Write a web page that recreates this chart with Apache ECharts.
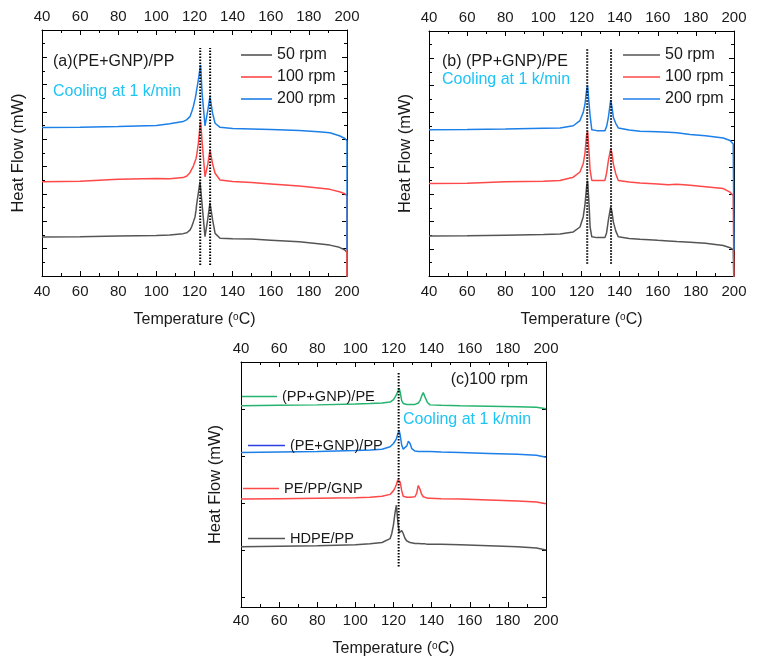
<!DOCTYPE html>
<html><head><meta charset="utf-8">
<script src="https://cdn.jsdelivr.net/npm/echarts@6/dist/echarts.min.js"></script>
<style>html,body{margin:0;padding:0;background:#fff}#c{width:758px;height:664px}</style>
</head><body><div id="c"></div>
<script>
// ---------- DATA ----------
const tempTicks = [40, 60, 80, 100, 120, 140, 160, 180, 200];

// Panel (a) (PE+GNP)/PP
const aT      = [40, 60, 80, 100, 107, 114, 116, 117.6, 118.5, 119.4, 120.3, 120.8, 121.1, 122, 122.9, 123.2, 124, 125.5, 127, 128.1, 129.5, 130.8, 133.4, 140, 150, 160, 175, 185, 191, 196, 198.9, 200, 200];
const aHF50   = [1.43, 1.44, 1.46, 1.48, 1.5, 1.55, 1.58, 1.68, 1.8, 1.98, 2.17, 2.41, 2.6, 3.03, 3.45, 3.4, 2.6, 1.44, 2.1, 2.68, 2.05, 1.56, 1.38, 1.36, 1.35, 1.31, 1.25, 1.18, 1.13, 1.05, 0.95, 0.86, -0.5];
const aHF100  = [3.45, 3.47, 3.54, 3.57, 3.56, 3.6, 3.66, 3.78, 3.9, 4.02, 4.2, 4.3, 4.4, 4.85, 5.5, 5.65, 4.9, 3.63, 4.1, 4.61, 4.1, 3.76, 3.51, 3.46, 3.42, 3.37, 3.29, 3.22, 3.17, 3.08, 3.01, 2.93, -0.5];
const aHF200  = [5.43, 5.44, 5.47, 5.51, 5.57, 5.65, 5.72, 5.83, 6.0, 6.2, 6.48, 6.65, 6.8, 7.17, 7.6, 7.72, 6.68, 5.49, 6.07, 6.56, 5.95, 5.59, 5.44, 5.40, 5.38, 5.36, 5.32, 5.28, 5.24, 5.13, 5.03, 4.95, 0.95];
const aGuideT = [123, 128.2];
const aGuideY = [0.4, 8.34];

// Panel (b) (PP+GNP)/PE
const bT      = [40, 60, 80, 100, 108.7, 115.7, 119.2, 120.9, 121.8, 122.7, 123.2, 124, 124.5, 125.4, 128, 132.3, 133.2, 134.1, 135.3, 136, 136.7, 138, 139.3, 145, 150.7, 160, 165.5, 166.5, 170, 177, 185, 194.4, 197.9, 199.6, 200, 200];
const bHF50   = [1.47, 1.48, 1.5, 1.52, 1.54, 1.62, 1.8, 2.17, 2.6, 3.3, 3.5, 2.6, 1.8, 1.44, 1.41, 1.41, 1.6, 2.05, 2.54, 2.35, 1.99, 1.65, 1.44, 1.38, 1.35, 1.31, 1.29, 1.29, 1.27, 1.24, 1.2, 1.12, 1.04, 0.97, 0.93, -0.5];
const bHF100  = [3.4, 3.41, 3.46, 3.48, 3.51, 3.63, 3.82, 4.12, 4.5, 5.2, 5.32, 4.5, 3.9, 3.51, 3.51, 3.51, 3.8, 4.24, 4.67, 4.5, 4.12, 3.75, 3.51, 3.45, 3.42, 3.38, 3.35, 3.41, 3.37, 3.33, 3.28, 3.21, 3.08, 2.96, 2.92, -0.5];
const bHF200  = [5.37, 5.38, 5.40, 5.43, 5.44, 5.52, 5.71, 6.01, 6.3, 6.85, 6.99, 6.3, 5.9, 5.37, 5.34, 5.34, 5.5, 5.83, 6.46, 6.2, 5.83, 5.6, 5.44, 5.36, 5.32, 5.3, 5.28, 5.28, 5.26, 5.2, 5.15, 5.07, 4.98, 4.85, 4.8, 0.95];
const bGuideT = [123, 135.5];
const bGuideY = [0.45, 8.38];

// Panel (c) 100 rpm
const cT         = [40, 60, 80, 100, 107.7, 114, 118.2, 119.1, 120, 120.8, 121.5, 122.3, 123, 123.5, 124.3, 125.1, 126, 127, 127.8, 128.7, 129.6, 131.3, 132.2, 133, 133.9, 134.8, 135.6, 136.5, 137.8, 139.2, 145, 155, 170, 185, 195, 200];
const cHFppGnp   = [4.07, 4.08, 4.09, 4.11, 4.12, 4.13, 4.15, 4.17, 4.2, 4.24, 4.3, 4.38, 4.44, 4.36, 4.18, 4.12, 4.1, 4.1, 4.1, 4.1, 4.1, 4.1, 4.11, 4.13, 4.18, 4.28, 4.35, 4.26, 4.14, 4.09, 4.08, 4.07, 4.06, 4.05, 4.04, 4.01];
const cHFpeGnp   = [3.08, 3.09, 3.1, 3.12, 3.13, 3.15, 3.2, 3.23, 3.27, 3.31, 3.37, 3.48, 3.54, 3.45, 3.24, 3.15, 3.14, 3.22, 3.32, 3.27, 3.16, 3.11, 3.1, 3.1, 3.1, 3.1, 3.1, 3.1, 3.1, 3.1, 3.09, 3.08, 3.06, 3.04, 3.02, 2.98];
const cHFpePpGnp = [2.09, 2.1, 2.11, 2.12, 2.13, 2.15, 2.19, 2.22, 2.27, 2.33, 2.4, 2.5, 2.53, 2.45, 2.27, 2.15, 2.13, 2.13, 2.13, 2.13, 2.13, 2.14, 2.22, 2.38, 2.3, 2.19, 2.14, 2.12, 2.11, 2.11, 2.1, 2.09, 2.07, 2.05, 2.03, 1.99];
const cHFhdpePp  = [1.08, 1.09, 1.1, 1.12, 1.14, 1.17, 1.25, 1.36, 1.55, 1.8, 1.96, 1.6, 1.38, 1.38, 1.42, 1.36, 1.26, 1.2, 1.18, 1.17, 1.16, 1.15, 1.15, 1.15, 1.14, 1.14, 1.14, 1.14, 1.13, 1.13, 1.13, 1.12, 1.1, 1.08, 1.05, 1.01];
const cGuideT = [122.7];
const cGuideY = [0.66, 4.77];
const cYTicks = [0, 1, 2, 3, 4];

const rpmNames = ['50 rpm', '100 rpm', '200 rpm'];
const cNames = ['(PP+GNP)/PE', '(PE+GNP)/PP', 'PE/PP/GNP', 'HDPE/PP'];

// ---------- STYLE ----------
const FONT = 'Arial, "Liberation Sans", Helvetica, sans-serif';
const TXT = '#1a1a1a';
const GRAY = '#555555', RED = '#ff4848', BLUE = '#1d7fe8', GREEN = '#25b36e', CYAN = '#1ec4f4', LEGBLUE = '#2b3fe2';

const zip = (t, v) => t.map((x, i) => [x, v[i]]);

function xAxes(g, nameGap, botMargin, topMargin) {
  const common = {
    type: 'value', gridIndex: g, min: 40, max: 200, interval: 20,
    axisLine: { show: true, onZero: false, lineStyle: { color: '#000', width: 1 } },
    axisTick: { show: true, inside: true, length: 5, lineStyle: { color: '#000' } },
    minorTick: { show: true, splitNumber: 2, length: 3, lineStyle: { color: '#000' } },
    splitLine: { show: false }, minorSplitLine: { show: false },
    axisLabel: { fontSize: 15, color: TXT, fontFamily: FONT }
  };
  return [
    Object.assign({}, common, {
      position: 'bottom',
      axisLabel: Object.assign({}, common.axisLabel, { margin: botMargin }),
      name: 'Temperature ({s|o}C)', nameLocation: 'middle', nameGap: nameGap,
      nameTextStyle: { fontSize: 16, color: TXT, fontFamily: FONT,
        rich: { s: { fontSize: 10, color: TXT, fontFamily: FONT, verticalAlign: 'top', padding: [0, 0, 6, 0] } } }
    }),
    Object.assign({}, common, {
      position: 'top',
      axisLabel: Object.assign({}, common.axisLabel, { margin: topMargin })
    })
  ];
}

function yAxes(g, opts) {
  const common = {
    type: 'value', gridIndex: g, min: opts.min, max: opts.max,
    axisLine: { show: true, onZero: false, lineStyle: { color: '#000', width: 1 } },
    axisTick: { show: true, inside: true, length: 5, lineStyle: { color: '#000' } },
    axisLabel: { show: false },
    splitLine: { show: false }
  };
  if (opts.interval) {
    common.interval = opts.interval;
    common.minorTick = { show: true, splitNumber: 2, length: 3, lineStyle: { color: '#000' } };
  }
  if (opts.customTicks) {
    common.axisTick = Object.assign({}, common.axisTick, { customValues: opts.customTicks, length: 4 });
  }
  return [
    Object.assign({}, common, {
      position: 'left', name: 'Heat Flow (mW)', nameLocation: 'middle', nameGap: opts.nameGap, nameRotate: 90,
      nameTextStyle: { fontSize: 16.5, color: TXT, fontFamily: FONT }
    }),
    Object.assign({}, common, { position: 'right' })
  ];
}

const xAxis = [].concat(xAxes(0, 36, 8, 6), xAxes(1, 36, 8, 6), xAxes(2, 34, 6, 6));
const yAxis = [].concat(
  yAxes(0, { min: 0, max: 9, interval: 1, nameGap: 15 }),
  yAxes(1, { min: 0, max: 9, interval: 1, nameGap: 15 }),
  yAxes(2, { min: -0.2, max: 5, customTicks: cYTicks, nameGap: 17 })
);

function curve(name, xi, yi, t, v, color) {
  return { type: 'line', name: name, xAxisIndex: xi, yAxisIndex: yi, data: zip(t, v),
    symbol: 'none', smooth: false, clip: true, silent: true,
    lineStyle: { color: color, width: 1.5 }, itemStyle: { color: color } };
}
function guides(xi, yi, ts, ys) {
  return ts.map(t => ({ type: 'line', xAxisIndex: xi, yAxisIndex: yi, data: ys.map(y => [t, y]),
    symbol: 'none', silent: true, z: 5,
    lineStyle: { color: '#000', width: 2, type: [1.5, 1.5] } }));
}

const series = [
  curve(rpmNames[0], 0, 0, aT, aHF50, GRAY),
  curve(rpmNames[1], 0, 0, aT, aHF100, RED),
  curve(rpmNames[2], 0, 0, aT, aHF200, BLUE),
  curve(rpmNames[0], 2, 2, bT, bHF50, GRAY),
  curve(rpmNames[1], 2, 2, bT, bHF100, RED),
  curve(rpmNames[2], 2, 2, bT, bHF200, BLUE),
  curve(cNames[3], 4, 4, cT, cHFhdpePp, GRAY),
  curve(cNames[2], 4, 4, cT, cHFpePpGnp, RED),
  curve(cNames[1], 4, 4, cT, cHFpeGnp, BLUE),
  curve(cNames[0], 4, 4, cT, cHFppGnp, GREEN)
].concat(guides(0, 0, aGuideT, aGuideY), guides(2, 2, bGuideT, bGuideY), guides(4, 4, cGuideT, cGuideY));

// legend icons: thin line-like rectangles (no symbol)
const legBase = { orient: 'vertical', padding: 0, icon: 'rect', itemHeight: 1.6, itemGap: 6, selectedMode: false,
  textStyle: { fontSize: 16, color: TXT, fontFamily: FONT, lineHeight: 14 } };
const legC = (name, left, top, w, extra) => Object.assign({}, legBase, {
  left: left, top: top, itemWidth: w,
  textStyle: { fontSize: 14.6, color: TXT, fontFamily: FONT, lineHeight: 14 },
  data: [Object.assign({ name: name }, extra || {})] });

const legend = [
  Object.assign({}, legBase, { left: 241, top: 47, itemWidth: 31, data: rpmNames }),
  Object.assign({}, legBase, { left: 623, top: 47, itemWidth: 37, data: rpmNames }),
  legC(cNames[0], 242, 389, 35),
  legC(cNames[1], 248, 438, 37, { itemStyle: { color: LEGBLUE } }),
  legC(cNames[2], 243, 481, 36),
  legC(cNames[3], 248, 531, 37)
];

const txt = (s, x, y, color, align, size) => ({ type: 'text', x: x, y: y, silent: true,
  style: { text: s, fill: color, font: (size || 16) + 'px ' + FONT, align: align || 'left', verticalAlign: 'middle',
           textAlign: align || 'left', textVerticalAlign: 'middle' } });

const graphic = [
  txt('(a)(PE+GNP)/PP', 53, 62, TXT),
  txt('Cooling at 1 k/min', 53, 92, CYAN),
  txt('(b) (PP+GNP)/PE', 442, 62, TXT),
  txt('Cooling at 1 k/min', 442, 80, CYAN),
  txt('(c)100 rpm', 528, 380, TXT, 'right'),
  txt('Cooling at 1 k/min', 403, 420, CYAN)
];

const chart = echarts.init(document.getElementById('c'), null, { renderer: 'canvas' });
chart.setOption({
  animation: false,
  backgroundColor: '#fff',
  textStyle: { fontFamily: FONT },
  grid: [
    { left: 42, top: 30, width: 305, height: 246, containLabel: false },
    { left: 429, top: 31, width: 305, height: 245, containLabel: false },
    { left: 241, top: 362, width: 305, height: 245, containLabel: false }
  ],
  xAxis: xAxis,
  yAxis: yAxis,
  legend: legend,
  series: series,
  graphic: graphic
});
</script></body></html>
